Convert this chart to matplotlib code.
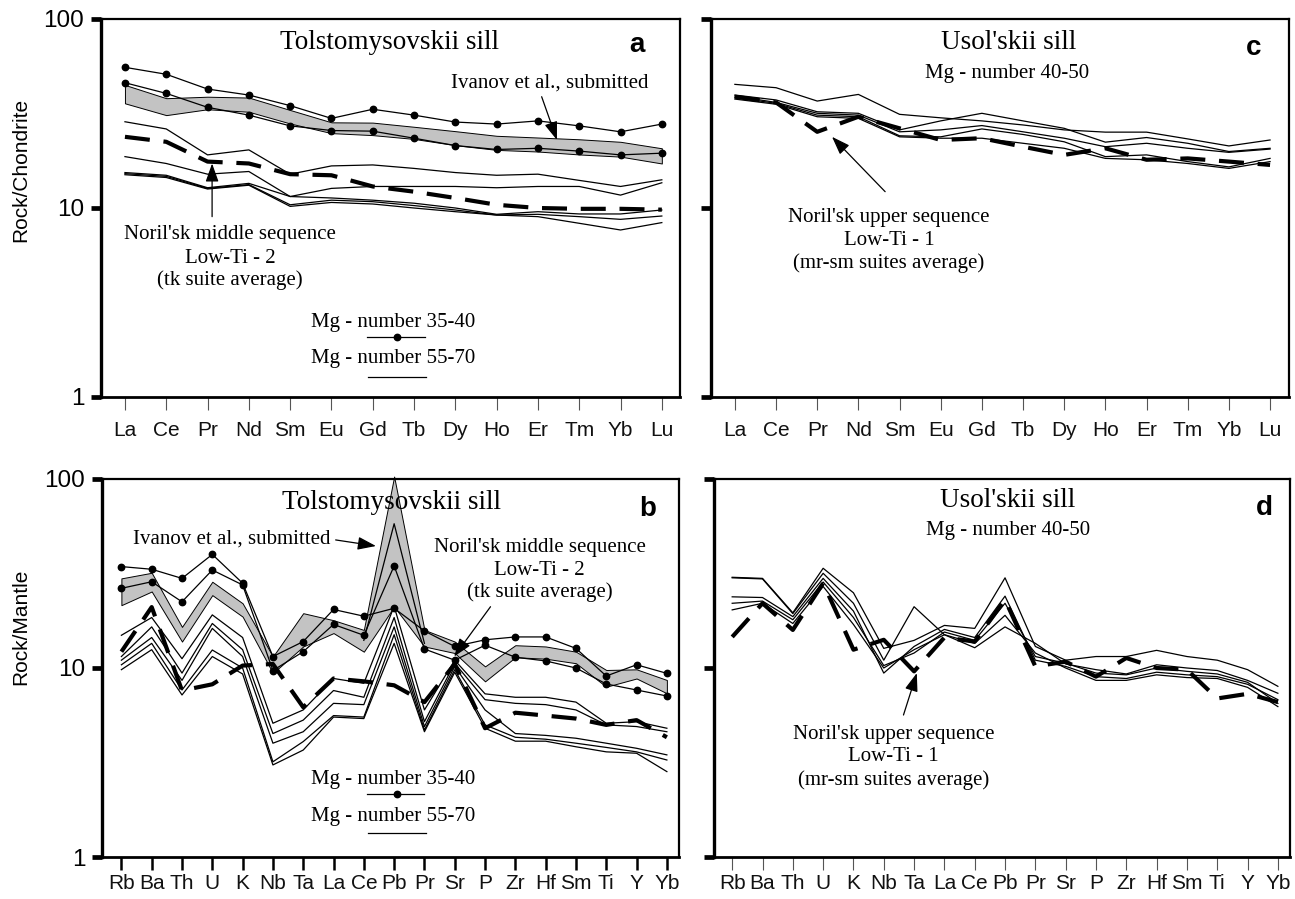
import matplotlib
matplotlib.use('Agg')
import matplotlib.pyplot as plt
from matplotlib.ticker import NullLocator

SANS = 'Liberation Sans'
SERIF = 'Liberation Serif'

# ---------------- data ----------------
ree = ['La', 'Ce', 'Pr', 'Nd', 'Sm', 'Eu', 'Gd', 'Tb', 'Dy', 'Ho', 'Er', 'Tm', 'Yb', 'Lu']
spider = ['Rb', 'Ba', 'Th', 'U', 'K', 'Nb', 'Ta', 'La', 'Ce', 'Pb', 'Pr', 'Sr', 'P',
          'Zr', 'Hf', 'Sm', 'Ti', 'Y', 'Yb']

# Panel a: Tolstomysovskii sill, chondrite normalised
a_dot1 = [55.5, 51.0, 42.6, 39.6, 34.8, 29.8, 33.3, 31.0, 28.5, 27.8, 28.9, 27.2, 25.3, 27.8]
a_dot2 = [46.0, 40.4, 34.1, 31.0, 27.2, 25.7, 25.5, 23.4, 21.4, 20.4, 20.7, 20.0, 19.1, 19.5]
a_band_hi = [44.8, 38.1, 38.8, 38.4, 33.0, 28.4, 28.3, 26.9, 25.5, 24.1, 23.6, 23.1, 22.4, 20.7]
a_band_lo = [35.8, 31.0, 33.3, 32.3, 28.0, 24.9, 24.3, 23.2, 21.5, 20.3, 19.9, 19.2, 18.7, 17.2]
a_thin1 = [28.6, 26.2, 19.1, 20.3, 15.1, 16.7, 16.9, 16.2, 15.4, 14.9, 15.1, 14.0, 13.0, 14.1]
a_thin2 = [18.7, 17.2, 15.1, 15.6, 11.5, 12.7, 13.0, 13.0, 13.0, 12.8, 13.0, 13.0, 11.7, 13.6]
a_thin3 = [15.4, 14.9, 12.8, 13.5, 11.5, 11.3, 11.0, 10.6, 10.0, 9.26, 9.56, 9.3, 9.3, 9.76]
a_thin4 = [15.2, 14.7, 12.7, 13.3, 10.4, 11.0, 10.8, 10.3, 9.76, 9.18, 9.26, 9.0, 8.71, 9.07]
a_thin5 = [15.0, 14.5, 12.6, 13.2, 10.2, 10.7, 10.5, 10.0, 9.56, 9.18, 9.0, 8.3, 7.65, 8.37]
a_norilsk = [23.8, 22.4, 17.6, 17.2, 15.1, 14.9, 13.0, 12.2, 11.3, 10.4, 10.0, 9.9, 9.9, 9.8]

# Panel b: Tolstomysovskii sill, mantle normalised
b_dot1 = [34.4, 33.3, 29.8, 39.9, 28.1, 11.5, 13.8, 20.4, 18.8, 20.7, 15.7, 13.0, 14.1,
          14.6, 14.6, 12.7, 9.07, 10.4, 9.37]
b_dot2 = [26.4, 28.6, 22.4, 33.0, 27.5, 9.7, 12.2, 17.0, 14.9, 34.7, 12.6, 11.0, 13.2,
          11.4, 10.9, 10.0, 8.23, 7.65, 7.11]
b_band_hi = [29.8, 31.9, 16.5, 28.6, 22.0, 11.5, 19.5, 17.9, 15.9, 103.0, 15.9, 13.8, 10.2,
             13.2, 13.0, 12.2, 9.76, 9.84, 8.64]
b_band_lo = [21.5, 25.4, 13.8, 24.3, 18.7, 9.4, 13.0, 15.3, 12.2, 21.1, 13.0, 12.0, 8.5,
             11.4, 11.2, 10.6, 7.96, 8.8, 7.35]
b_peak = [None, None, None, None, None, None, None, None, 14.0, 58.0, 13.5, None, None,
          None, None, None, None, None, None]
b_thin1 = [14.9, 18.5, 11.2, 19.1, 14.5, 5.1, 6.0, 8.8, 8.3, 21.2, 6.0, 11.0, 7.3,
           7.0, 7.0, 6.6, 5.1, 5.2, 4.8]
b_thin2 = [11.5, 16.5, 9.4, 17.2, 12.5, 4.5, 5.3, 7.6, 7.0, 18.5, 5.2, 10.6, 6.8,
           6.5, 6.4, 6.0, 5.0, 4.9, 4.6]
b_thin3 = [11.0, 14.5, 8.6, 16.2, 11.5, 4.0, 4.6, 6.5, 6.4, 16.5, 4.9, 10.2, 6.0,
           4.5, 4.4, 4.25, 4.0, 3.76, 3.47]
b_thin4 = [10.4, 13.5, 7.65, 12.45, 10.0, 3.19, 4.08, 5.6, 5.5, 15.0, 4.7, 9.8, 5.0,
           4.3, 4.2, 4.0, 3.8, 3.6, 3.26]
b_thin5 = [9.8, 12.5, 7.2, 11.5, 9.3, 3.07, 3.68, 5.5, 5.4, 13.5, 4.6, 9.5, 4.8,
           4.1, 4.1, 3.83, 3.6, 3.54, 2.83]
b_norilsk = [12.2, 21.0, 7.6, 8.2, 10.3, 10.5, 6.2, 8.8, 8.5, 8.1, 6.6, 10.5, 4.8,
             5.8, 5.6, 5.4, 5.0, 5.3, 4.3]

# Panel c: Usol'skii sill, chondrite normalised
c_thin1 = [45.1, 43.3, 36.8, 39.9, 31.3, 30.0, 28.9, 27.5, 25.9, 25.2, 25.2, 23.2, 21.3, 22.9]
c_thin2 = [39.6, 37.3, 32.3, 31.7, 25.9, 28.9, 31.7, 28.9, 26.4, 22.3, 23.6, 22.0, 19.9, 20.7]
c_thin3 = [39.1, 36.2, 31.7, 31.0, 25.3, 25.9, 27.3, 25.3, 23.4, 21.1, 22.0, 20.7, 19.7, 20.5]
c_thin4 = [38.4, 35.8, 31.0, 30.4, 24.1, 23.8, 26.2, 24.5, 22.4, 18.7, 19.1, 17.6, 16.5, 18.3]
c_thin5 = [37.7, 35.4, 30.4, 29.8, 23.8, 23.4, 23.4, 22.0, 20.7, 18.3, 18.0, 17.2, 16.2, 17.6]
c_norilsk = [38.8, 36.2, 25.3, 30.4, 26.4, 22.9, 23.4, 21.1, 19.1, 20.7, 18.0, 18.3, 17.6, 16.9]

# Panel d: Usol'skii sill, mantle normalised
d_thin1 = [30.2, 29.8, 19.6, 33.7, 25.0, 12.7, 14.0, 16.8, 16.2, 30.0, 13.0, 11.0, 11.5,
           11.5, 12.4, 11.5, 11.0, 9.8, 8.0]
d_thin2 = [30.0, 29.6, 19.4, 31.7, 22.0, 11.0, 21.1, 15.0, 12.8, 16.5, 13.5, 10.5, 9.8,
           9.3, 10.4, 10.0, 9.7, 8.6, 7.35]
d_thin3 = [23.8, 23.6, 18.7, 29.8, 20.0, 9.4, 13.0, 16.0, 14.5, 24.0, 11.0, 10.2, 9.0,
           8.8, 9.5, 9.2, 9.0, 8.2, 6.8]
d_thin4 = [22.0, 22.6, 18.0, 28.5, 18.5, 10.3, 12.0, 15.5, 14.0, 22.0, 11.5, 10.6, 9.4,
           9.2, 10.0, 9.6, 9.3, 8.4, 6.5]
d_thin5 = [20.3, 22.0, 17.2, 27.0, 17.0, 10.0, 12.5, 15.0, 13.5, 19.0, 12.0, 10.0, 8.6,
           8.6, 9.2, 8.9, 8.8, 7.9, 6.25]
d_norilsk = [14.6, 22.0, 15.9, 28.1, 12.5, 14.1, 9.6, 14.5, 13.8, 23.0, 10.2, 10.8, 9.0,
             11.3, 10.0, 9.8, 6.9, 7.3, 6.6]

# ---------------- figure ----------------
W, H = 1295, 899
fig = plt.figure(figsize=(W / 100, H / 100), dpi=100)


def rect(l, r, t, b):
    return [l / W, 1 - b / H, (r - l) / W, (b - t) / H]


ax_a = fig.add_axes(rect(101, 680, 19, 397))
ax_c = fig.add_axes(rect(711, 1289, 19, 397))
ax_b = fig.add_axes(rect(102, 679, 479, 857))
ax_d = fig.add_axes(rect(714, 1290, 479, 857))


def setup(ax, labels, xlim, show_y, xw, xc, xpad):
    ax.set_yscale('log')
    ax.set_ylim(1, 100)
    ax.set_xlim(*xlim)
    ax.set_xticks(range(len(labels)))
    ax.set_xticklabels(labels, fontfamily=SANS, fontsize=15)
    ax.set_yticks([1, 10, 100])
    ax.set_yticklabels(['1', '10', '100'], fontfamily=SANS, fontsize=17.5)
    ax.yaxis.set_minor_locator(NullLocator())
    ax.tick_params(axis='y', length=7, width=3.4, direction='out', pad=5,
                   labelleft=show_y, color='k')
    ax.tick_params(axis='x', length=9, width=xw, color=xc, direction='out',
                   pad=xpad, labelcolor='#111111')
    for s in ['top', 'right']:
        ax.spines[s].set_linewidth(1.6)
    ax.spines['left'].set_linewidth(2.4)
    ax.spines['bottom'].set_linewidth(2.0)


setup(ax_a, ree, (-0.58, 13.44), True, 0.8, '#555555', 8)
setup(ax_c, ree, (-0.58, 13.46), False, 0.8, '#555555', 8)
setup(ax_b, spider, (-0.64, 18.4), True, 1.8, 'k', 3)
setup(ax_d, spider, (-0.6, 18.4), False, 0.8, '#555555', 3)

xr = list(range(len(ree)))
xs = list(range(len(spider)))

thin_kw = dict(color='k', lw=0.9, zorder=3)
dash_kw = dict(color='k', lw=3.0, dashes=(6, 3.3), dash_capstyle='butt', zorder=4)
dot_kw = dict(color='k', lw=0.9, marker='o', ms=4.6, zorder=5)
band_kw = dict(facecolor='#c3c3c3', edgecolor='k', lw=0.7, zorder=2)

# panel a
ax_a.fill_between(xr, a_band_lo, a_band_hi, **band_kw)
for s in (a_thin1, a_thin2, a_thin3, a_thin4, a_thin5):
    ax_a.plot(xr, s, **thin_kw)
ax_a.plot(xr, a_norilsk, **dash_kw)
ax_a.plot(xr, a_dot1, **dot_kw)
ax_a.plot(xr, a_dot2, **dot_kw)

# panel b
ax_b.fill_between(xs, b_band_lo, b_band_hi, clip_on=False, **band_kw)
px = [i for i, v in enumerate(b_peak) if v is not None]
pv = [v for v in b_peak if v is not None]
ax_b.plot(px, pv, **thin_kw)
for s in (b_thin1, b_thin2, b_thin3, b_thin4, b_thin5):
    ax_b.plot(xs, s, **thin_kw)
ax_b.plot(xs, b_norilsk, **dash_kw)
ax_b.plot(xs, b_dot1, **dot_kw)
ax_b.plot(xs, b_dot2, **dot_kw)

# panel c
for s in (c_thin1, c_thin2, c_thin3, c_thin4, c_thin5):
    ax_c.plot(xr, s, **thin_kw)
ax_c.plot(xr, c_norilsk, **dash_kw)

# panel d
for s in (d_thin1, d_thin2, d_thin3, d_thin4, d_thin5):
    ax_d.plot(xs, s, **thin_kw)
ax_d.plot(xs, d_norilsk, **dash_kw)

# ---------------- annotations ----------------
arrow = dict(arrowstyle='-|>,head_length=0.7,head_width=0.25', color='k', lw=0.9,
             shrinkA=0, shrinkB=0, mutation_scale=16)


def txt(ax, x, yf, s, size=15, **kw):
    ax.text(x, yf, s, transform=ax.get_xaxis_transform(), ha='center', va='center',
            fontfamily=SERIF, fontsize=size, **kw)


def letter(ax, x, yf, s):
    ax.text(x, yf, s, transform=ax.get_xaxis_transform(), ha='center', va='center',
            fontfamily=SANS, fontsize=20, fontweight='bold')


# a
txt(ax_a, 6.4, 0.937, 'Tolstomysovskii sill', size=19.5)
letter(ax_a, 12.4, 0.931, 'a')
txt(ax_a, 10.28, 0.831, 'Ivanov et al., submitted')
ax_a.annotate('', xy=(10.46, 22.9), xytext=(10.09, 38.8), arrowprops=arrow)
txt(ax_a, 2.55, 0.4286, "Noril'sk middle sequence")
txt(ax_a, 2.55, 0.3677, 'Low-Ti - 2')
txt(ax_a, 2.55, 0.3095, '(tk suite average)')
ax_a.annotate('', xy=(2.11, 17.2), xytext=(2.11, 9.0), arrowprops=arrow)
txt(ax_a, 6.5, 0.196, 'Mg - number 35-40')
ax_a.plot([5.86, 7.27], [2.08, 2.08], color='k', lw=0.9)
ax_a.plot([6.59], [2.08], 'ko', ms=4.6)
txt(ax_a, 6.5, 0.103, 'Mg - number 55-70')
ax_a.plot([5.89, 7.3], [1.276, 1.276], color='k', lw=0.9)

# b
txt(ax_b, 8.9, 0.939, 'Tolstomysovskii sill', size=19.5)
letter(ax_b, 17.37, 0.921, 'b')
txt(ax_b, 3.63, 0.841, 'Ivanov et al., submitted')
ax_b.annotate('', xy=(8.4, 44.2), xytext=(7.07, 47.6), arrowprops=arrow)
txt(ax_b, 13.8, 0.820, "Noril'sk middle sequence")
txt(ax_b, 13.8, 0.759, 'Low-Ti - 2')
txt(ax_b, 13.8, 0.701, '(tk suite average)')
ax_b.annotate('', xy=(10.98, 11.5), xytext=(12.18, 21.1), arrowprops=arrow)
txt(ax_b, 8.96, 0.204, 'Mg - number 35-40')
ax_b.plot([8.1, 10.0], [2.15, 2.15], color='k', lw=0.9)
ax_b.plot([9.09], [2.15], 'ko', ms=4.6)
txt(ax_b, 8.96, 0.106, 'Mg - number 55-70')
ax_b.plot([8.14, 10.06], [1.34, 1.34], color='k', lw=0.9)

# c
txt(ax_c, 6.65, 0.937, "Usol'skii sill", size=19.5)
txt(ax_c, 6.6, 0.857, 'Mg - number 40-50')
letter(ax_c, 12.6, 0.923, 'c')
txt(ax_c, 3.74, 0.476, "Noril'sk upper sequence")
txt(ax_c, 3.74, 0.415, 'Low-Ti - 1')
txt(ax_c, 3.74, 0.354, '(mr-sm suites average)')
ax_c.annotate('', xy=(2.36, 23.8), xytext=(3.65, 12.2), arrowprops=arrow)

# d
txt(ax_d, 9.1, 0.944, "Usol'skii sill", size=19.5)
txt(ax_d, 9.1, 0.865, 'Mg - number 40-50')
letter(ax_d, 17.54, 0.923, 'd')
txt(ax_d, 5.33, 0.323, "Noril'sk upper sequence")
txt(ax_d, 5.33, 0.265, 'Low-Ti - 1')
txt(ax_d, 5.33, 0.204, '(mr-sm suites average)')
ax_d.annotate('', xy=(6.09, 9.4), xytext=(5.65, 5.64), arrowprops=arrow)

# axis titles
fig.text(21 / W, 1 - 170 / H, 'Rock/Chondrite', rotation=90, ha='center', va='center',
         fontfamily=SANS, fontsize=15)
fig.text(21 / W, 1 - 627 / H, 'Rock/Mantle', rotation=90, ha='center', va='center',
         fontfamily=SANS, fontsize=15)

fig.savefig('out.png', dpi=100)
